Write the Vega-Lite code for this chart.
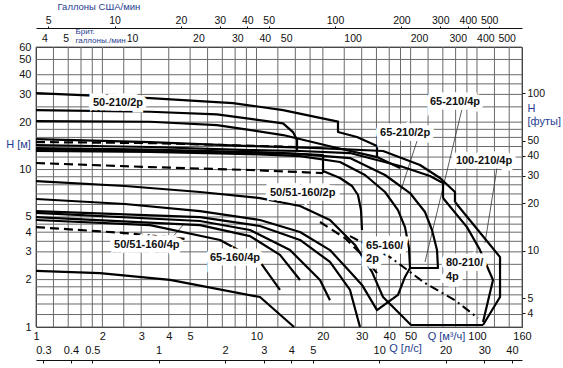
{
  "$schema": "https://vega.github.io/schema/vega-lite/v6.json",
  "width": 486,
  "height": 280,
  "autosize": "none",
  "padding": {"left": 36, "top": 47, "right": 41, "bottom": 41},
  "background": "white",
  "config": {
    "view": {"stroke": "#222", "strokeWidth": 1},
    "font": "Liberation Sans",
    "axis": {"labelFont": "Liberation Sans", "titleFont": "Liberation Sans", "labelColor": "#111", "titleColor": "#1f3d8f", "grid": false, "labelFontSize": 11, "titleFontWeight": "normal", "titleFontSize": 11}
  },
  "datasets": {
    "gx": [{"v":1},{"v":1.2},{"v":1.4},{"v":1.6},{"v":1.8},{"v":2},{"v":2.5},{"v":3},{"v":4},{"v":5},{"v":6},{"v":7},{"v":8},{"v":9},{"v":10},{"v":12.5},{"v":15},{"v":17.5},{"v":20},{"v":25},{"v":30},{"v":35},{"v":40},{"v":45},{"v":50},{"v":60},{"v":70},{"v":80},{"v":90},{"v":100},{"v":120},{"v":140},{"v":160}],
    "gy": [{"v":1},{"v":1.2},{"v":1.4},{"v":1.6},{"v":1.8},{"v":2},{"v":2.5},{"v":3},{"v":3.5},{"v":4},{"v":4.5},{"v":5},{"v":6},{"v":7},{"v":8},{"v":9},{"v":10},{"v":12},{"v":14},{"v":16},{"v":18},{"v":20},{"v":25},{"v":30},{"v":35},{"v":40},{"v":50},{"v":60}],
    "solid": [
      {"id":"A1","i":0,"Q":1,"H":30.6},{"id":"A1","i":1,"Q":3.289,"H":28.44},{"id":"A1","i":2,"Q":7.82,"H":26.44},{"id":"A1","i":3,"Q":13.19,"H":23.86},{"id":"A1","i":4,"Q":23.42,"H":20.17},{"id":"A1","i":5,"Q":23.42,"H":17.3},{"id":"A1","i":6,"Q":28.56,"H":16.08},{"id":"A1","i":7,"Q":35.2,"H":14.1},{"id":"A1","i":8,"Q":35.2,"H":12.0},
      {"id":"A2","i":0,"Q":1,"H":23.86},{"id":"A2","i":1,"Q":3.289,"H":23.28},{"id":"A2","i":2,"Q":6.62,"H":22.41},{"id":"A2","i":3,"Q":13.19,"H":19.65},{"id":"A2","i":4,"Q":14.64,"H":17.3},{"id":"A2","i":5,"Q":15.27,"H":15.39},{"id":"A2","i":6,"Q":15.27,"H":13.3},
      {"id":"A3","i":0,"Q":1,"H":20.32},{"id":"A3","i":1,"Q":3.289,"H":20.11},{"id":"A3","i":2,"Q":6.62,"H":19.16},{"id":"A3","i":3,"Q":13.19,"H":16.56},{"id":"A3","i":4,"Q":22.23,"H":13.9},{"id":"A3","i":5,"Q":35.2,"H":12.0},{"id":"A3","i":6,"Q":44.76,"H":10.22},
      {"id":"R100","i":0,"Q":1,"H":15.62},{"id":"R100","i":1,"Q":3.289,"H":14.95},{"id":"R100","i":2,"Q":9.344,"H":14.1},{"id":"R100","i":3,"Q":19.41,"H":13.69},{"id":"R100","i":4,"Q":37.48,"H":13.11},{"id":"R100","i":5,"Q":55.15,"H":10.68},{"id":"R100","i":6,"Q":67.96,"H":8.83},{"id":"R100","i":7,"Q":79.46,"H":7.2},{"id":"R100","i":8,"Q":79.46,"H":6.22},
      {"id":"R80","i":0,"Q":1,"H":14.31},{"id":"R80","i":1,"Q":3.289,"H":13.9},{"id":"R80","i":2,"Q":9.344,"H":13.3},{"id":"R80","i":3,"Q":15.75,"H":13.11},{"id":"R80","i":4,"Q":26.55,"H":12.73},{"id":"R80","i":5,"Q":44.76,"H":10.53},{"id":"R80","i":6,"Q":61.21,"H":9.09},{"id":"R80","i":7,"Q":70.13,"H":8.21},{"id":"R80","i":8,"Q":70.13,"H":6.59},
      {"id":"P3","i":0,"Q":1,"H":13.69},{"id":"P3","i":1,"Q":3.289,"H":13.4},{"id":"P3","i":2,"Q":9.344,"H":12.92},{"id":"P3","i":3,"Q":15.75,"H":12.54},{"id":"P3","i":4,"Q":26.55,"H":11.83},{"id":"P3","i":5,"Q":38.27,"H":9.23},{"id":"P3","i":6,"Q":49.68,"H":7.09},{"id":"P3","i":7,"Q":58.11,"H":5.37},{"id":"P3","i":8,"Q":62.51,"H":4.13},{"id":"P3","i":9,"Q":65.86,"H":3.08},{"id":"P3","i":10,"Q":66.55,"H":2.37},{"id":"P3","i":11,"Q":49.68,"H":2.37},
      {"id":"B2","i":0,"Q":1,"H":13.4},{"id":"B2","i":1,"Q":3.289,"H":13.11},{"id":"B2","i":2,"Q":13.19,"H":12.73},{"id":"B2","i":3,"Q":20.03,"H":12.36},{"id":"B2","i":4,"Q":20.03,"H":9.5},
      {"id":"P2","i":0,"Q":1,"H":13.11},{"id":"P2","i":1,"Q":3.289,"H":12.92},{"id":"P2","i":2,"Q":9.344,"H":12.54},{"id":"P2","i":3,"Q":15.75,"H":12.18},{"id":"P2","i":4,"Q":23.91,"H":11.16},{"id":"P2","i":5,"Q":31.05,"H":9.23},{"id":"P2","i":6,"Q":38.27,"H":7.2},{"id":"P2","i":7,"Q":43.82,"H":5.53},{"id":"P2","i":8,"Q":47.15,"H":4.31},{"id":"P2","i":9,"Q":49.16,"H":3.18},{"id":"P2","i":10,"Q":49.68,"H":2.37},
      {"id":"B3","i":0,"Q":20.03,"H":9.78},{"id":"B3","i":1,"Q":23.91,"H":8.83},{"id":"B3","i":2,"Q":27.11,"H":7.86},{"id":"B3","i":3,"Q":28.86,"H":6.89},{"id":"B3","i":4,"Q":29.78,"H":5.53},{"id":"B3","i":5,"Q":30.09,"H":4.13},
      {"id":"L7","i":0,"Q":1,"H":8.45},{"id":"L7","i":1,"Q":2.532,"H":7.86},{"id":"L7","i":2,"Q":5.544,"H":7.2},{"id":"L7","i":3,"Q":10.37,"H":6.59},{"id":"L7","i":4,"Q":15.75,"H":5.87},{"id":"L7","i":5,"Q":21.54,"H":4.78},{"id":"L7","i":6,"Q":27.97,"H":3.32},{"id":"L7","i":7,"Q":33.4,"H":2.24},{"id":"L7","i":8,"Q":37.48,"H":1.55},{"id":"L7","i":9,"Q":50.2,"H":1.03},
      {"id":"L8","i":0,"Q":1,"H":6.5},{"id":"L8","i":1,"Q":2.532,"H":6.04},{"id":"L8","i":2,"Q":5.544,"H":5.45},{"id":"L8","i":3,"Q":10.37,"H":4.78},{"id":"L8","i":4,"Q":15.75,"H":4.01},{"id":"L8","i":5,"Q":21.54,"H":3.08},{"id":"L8","i":6,"Q":26.55,"H":2.24},{"id":"L8","i":7,"Q":30.09,"H":1.85},{"id":"L8","i":8,"Q":35.2,"H":1.28},{"id":"L8","i":9,"Q":43.82,"H":1.6},{"id":"L8","i":10,"Q":47.15,"H":2.08},{"id":"L8","i":11,"Q":49.68,"H":2.37},
      {"id":"L9","i":0,"Q":1,"H":5.45},{"id":"L9","i":1,"Q":5.544,"H":4.99},{"id":"L9","i":2,"Q":10.37,"H":4.38},{"id":"L9","i":3,"Q":15.75,"H":3.57},{"id":"L9","i":4,"Q":21.54,"H":2.59},{"id":"L9","i":5,"Q":26.55,"H":1.72},{"id":"L9","i":6,"Q":29.47,"H":1.0},
      {"id":"L10","i":0,"Q":1,"H":5.3},{"id":"L10","i":1,"Q":5.544,"H":4.71},{"id":"L10","i":2,"Q":9.344,"H":4.13},{"id":"L10","i":3,"Q":14.19,"H":3.08},{"id":"L10","i":4,"Q":19.41,"H":1.99},{"id":"L10","i":5,"Q":21.54,"H":1.48},
      {"id":"L11","i":0,"Q":1,"H":4.99},{"id":"L11","i":1,"Q":5.544,"H":4.44},{"id":"L11","i":2,"Q":9.344,"H":3.78},{"id":"L11","i":3,"Q":12.78,"H":2.87},{"id":"L11","i":4,"Q":15.75,"H":1.99},
      {"id":"L12","i":0,"Q":1,"H":4.78},{"id":"L12","i":1,"Q":3.289,"H":4.44},{"id":"L12","i":2,"Q":6.832,"H":3.57},{"id":"L12","i":3,"Q":10.37,"H":2.59},{"id":"L12","i":4,"Q":12.78,"H":1.72},
      {"id":"L13","i":0,"Q":1,"H":2.27},{"id":"L13","i":1,"Q":1.95,"H":2.2},{"id":"L13","i":2,"Q":4.053,"H":1.99},{"id":"L13","i":3,"Q":10.37,"H":1.55},{"id":"L13","i":4,"Q":14.8,"H":1.0},
      {"id":"E1","i":0,"Q":70.13,"H":6.59},{"id":"E1","i":1,"Q":90.07,"H":4.31},{"id":"E1","i":2,"Q":103.2,"H":3.08},{"id":"E1","i":3,"Q":118.2,"H":1.99},{"id":"E1","i":4,"Q":106.5,"H":1.076},
      {"id":"E2","i":0,"Q":79.46,"H":6.22},{"id":"E2","i":1,"Q":127.2,"H":2.78},{"id":"E2","i":2,"Q":127.2,"H":1.55},{"id":"E2","i":3,"Q":106.5,"H":1.03},
      {"id":"BOT","i":0,"Q":50.2,"H":1.03},{"id":"BOT","i":1,"Q":106.5,"H":1.03}
    ],
    "dashed": [
      {"id":"D1","i":0,"Q":1,"H":11.0},{"id":"D1","i":1,"Q":3.289,"H":10.37},{"id":"D1","i":2,"Q":9.344,"H":9.93},{"id":"D1","i":3,"Q":20.03,"H":9.5},
      {"id":"D2","i":0,"Q":1,"H":4.31},{"id":"D2","i":1,"Q":2.532,"H":3.95},{"id":"D2","i":2,"Q":4.84,"H":3.62},
      {"id":"D3","i":0,"Q":1,"H":14.95},{"id":"D3","i":1,"Q":3.289,"H":14.73},{"id":"D3","i":2,"Q":15.27,"H":13.9},
      {"id":"D4","i":0,"Q":19.41,"H":4.64},{"id":"D4","i":1,"Q":25.2,"H":3.67},{"id":"D4","i":2,"Q":30.09,"H":2.87},{"id":"D4","i":3,"Q":35.2,"H":2.2}
    ],
    "dashdot": [
      {"id":"DD","i":0,"Q":26.55,"H":3.78},{"id":"DD","i":1,"Q":40.31,"H":2.78},{"id":"DD","i":2,"Q":58.11,"H":1.9},{"id":"DD","i":3,"Q":79.46,"H":1.48},{"id":"DD","i":4,"Q":101,"H":1.14}
    ],
    "leaders": [
      {"id":"LD1","i":0,"Q":53.45,"H":15.17},{"id":"LD1","i":1,"Q":44.76,"H":7.09},
      {"id":"LD2","i":0,"Q":85.5,"H":24.22},{"id":"LD2","i":1,"Q":58.11,"H":2.59},
      {"id":"LD3","i":0,"Q":123.2,"H":10.22},{"id":"LD3","i":1,"Q":108.7,"H":3.41},
      {"id":"LD4","i":0,"Q":4.053,"H":3.57},{"id":"LD4","i":1,"Q":4.69,"H":4.51}
    ],
    "labelsC": [
      {"t":"50-210/2p","Q":2.355,"H":26.4},
      {"t":"65-210/2p","Q":47.2,"H":17.1},
      {"t":"65-210/4p","Q":79.5,"H":26.8},
      {"t":"100-210/4p","Q":107.6,"H":11.3},
      {"t":"50/51-160/2p","Q":16.2,"H":7.09},
      {"t":"50/51-160/4p","Q":3.18,"H":3.32},
      {"t":"65-160/4p","Q":7.99,"H":2.74}
    ],
    "labelsL": [
      {"t":"65-160/","Q":31.4,"H":3.27},
      {"t":"2p","Q":31.4,"H":2.7},
      {"t":"80-210/","Q":72.3,"H":2.55},
      {"t":"4p","Q":72.3,"H":2.08}
    ]
  },
  "layer": [
    {
      "layer": [
        {
          "data": {"name": "gx"},
          "mark": {"type": "rule", "color": "#6a6a6a", "strokeWidth": 1},
          "encoding": {
            "x": {"field": "v", "type": "quantitative", "scale": {"type": "log", "domain": [1, 160], "nice": false},
              "axis": {"orient": "bottom", "values": [1,2,3,4,5,10,20,30,40,50,100,160], "domain": false, "ticks": false, "labelPadding": 3, "labelFlush": false, "labelOverlap": false, "format": "d", "title": "Q  [м³/ч]", "titleX": 410, "titleY": 9, "titleBaseline": "middle", "titleAlign": "center"}}
          }
        },
        {
          "data": {"name": "gy"},
          "mark": {"type": "rule", "color": "#6a6a6a", "strokeWidth": 1},
          "encoding": {
            "y": {"field": "v", "type": "quantitative", "scale": {"type": "log", "domain": [1, 60], "nice": false},
              "axis": {"orient": "left", "values": [1,2,3,4,5,10,20,30,40,50,60], "domain": false, "ticks": false, "labelPadding": 5, "labelFlush": false, "labelOverlap": false, "format": "d", "title": "H  [м]", "titleAngle": 0, "titleX": -18, "titleY": 97, "titleBaseline": "middle", "titleAlign": "center"}}
          }
        },
        {
          "data": {"name": "leaders"},
          "mark": {"type": "line", "color": "#333", "strokeWidth": 0.8},
          "encoding": {
            "x": {"field": "Q", "type": "quantitative", "scale": {"type": "log", "domain": [1, 160], "nice": false}},
            "y": {"field": "H", "type": "quantitative", "scale": {"type": "log", "domain": [1, 60], "nice": false}},
            "detail": {"field": "id"},
            "order": {"field": "i", "type": "quantitative"}
          }
        },
        {
          "data": {"name": "solid"},
          "mark": {"type": "line", "color": "#000", "strokeWidth": 2.2, "strokeJoin": "round"},
          "encoding": {
            "x": {"field": "Q", "type": "quantitative", "scale": {"type": "log", "domain": [1, 160], "nice": false}},
            "y": {"field": "H", "type": "quantitative", "scale": {"type": "log", "domain": [1, 60], "nice": false}},
            "detail": {"field": "id"},
            "order": {"field": "i", "type": "quantitative"}
          }
        },
        {
          "data": {"name": "dashed"},
          "mark": {"type": "line", "color": "#000", "strokeWidth": 2.2, "strokeDash": [9, 5]},
          "encoding": {
            "x": {"field": "Q", "type": "quantitative", "scale": {"type": "log", "domain": [1, 160], "nice": false}},
            "y": {"field": "H", "type": "quantitative", "scale": {"type": "log", "domain": [1, 60], "nice": false}},
            "detail": {"field": "id"},
            "order": {"field": "i", "type": "quantitative"}
          }
        },
        {
          "data": {"name": "dashdot"},
          "mark": {"type": "line", "color": "#000", "strokeWidth": 2, "strokeDash": [9, 4, 2, 4]},
          "encoding": {
            "x": {"field": "Q", "type": "quantitative", "scale": {"type": "log", "domain": [1, 160], "nice": false}},
            "y": {"field": "H", "type": "quantitative", "scale": {"type": "log", "domain": [1, 60], "nice": false}},
            "detail": {"field": "id"},
            "order": {"field": "i", "type": "quantitative"}
          }
        },
        {
          "data": {"name": "labelsC"},
          "mark": {"type": "text", "font": "Liberation Sans", "fontWeight": "bold", "fontSize": 11, "color": "white", "stroke": "white", "strokeWidth": 9, "strokeJoin": "miter", "align": "center", "baseline": "middle"},
          "encoding": {
            "x": {"field": "Q", "type": "quantitative", "scale": {"type": "log", "domain": [1, 160], "nice": false}},
            "y": {"field": "H", "type": "quantitative", "scale": {"type": "log", "domain": [1, 60], "nice": false}},
            "text": {"field": "t"}
          }
        },
        {
          "data": {"name": "labelsL"},
          "mark": {"type": "text", "font": "Liberation Sans", "fontWeight": "bold", "fontSize": 11, "color": "white", "stroke": "white", "strokeWidth": 9, "strokeJoin": "miter", "align": "left", "baseline": "middle"},
          "encoding": {
            "x": {"field": "Q", "type": "quantitative", "scale": {"type": "log", "domain": [1, 160], "nice": false}},
            "y": {"field": "H", "type": "quantitative", "scale": {"type": "log", "domain": [1, 60], "nice": false}},
            "text": {"field": "t"}
          }
        },
        {
          "data": {"name": "labelsC"},
          "mark": {"type": "text", "font": "Liberation Sans", "fontWeight": "bold", "fontSize": 11, "color": "#111", "align": "center", "baseline": "middle"},
          "encoding": {
            "x": {"field": "Q", "type": "quantitative", "scale": {"type": "log", "domain": [1, 160], "nice": false}},
            "y": {"field": "H", "type": "quantitative", "scale": {"type": "log", "domain": [1, 60], "nice": false}},
            "text": {"field": "t"}
          }
        },
        {
          "data": {"name": "labelsL"},
          "mark": {"type": "text", "font": "Liberation Sans", "fontWeight": "bold", "fontSize": 11, "color": "#111", "align": "left", "baseline": "middle"},
          "encoding": {
            "x": {"field": "Q", "type": "quantitative", "scale": {"type": "log", "domain": [1, 160], "nice": false}},
            "y": {"field": "H", "type": "quantitative", "scale": {"type": "log", "domain": [1, 60], "nice": false}},
            "text": {"field": "t"}
          }
        }
      ]
    },
    {
      "data": {"values": [{"ls": 0.27778}, {"ls": 44.444}]},
      "mark": {"type": "point", "opacity": 0},
      "encoding": {
        "x": {"field": "ls", "type": "quantitative", "scale": {"type": "log", "domain": [0.27778, 44.444], "nice": false},
          "axis": {"orient": "bottom", "offset": 33, "values": [0.3,0.4,0.5,1,2,3,4,5,10,20,30,40], "domain": true, "domainColor": "#111", "ticks": true, "tickSize": 3, "tickColor": "#111", "labelPadding": -19, "labelFlush": false, "labelOverlap": false, "title": "Q  [л/с]", "titleX": 369, "titleY": -12, "titleBaseline": "middle", "titleAlign": "center"}}
      }
    },
    {
      "data": {"values": [{"bg": 3.66615}, {"bg": 586.58}]},
      "mark": {"type": "point", "opacity": 0},
      "encoding": {
        "x": {"field": "bg", "type": "quantitative", "scale": {"type": "log", "domain": [3.66615, 586.58], "nice": false},
          "axis": {"orient": "top", "offset": 0, "values": [4,5,10,20,30,40,50,100,200,300,400,500], "domain": false, "ticks": false, "labelPadding": 4, "labelFontSize": 10.5, "labelFlush": false, "labelOverlap": false, "format": "d", "title": ["Брит.", "галлоны./мин"], "titleFontSize": 8, "titleLineHeight": 9, "titleX": 39, "titleY": -20, "titleBaseline": "top", "titleAlign": "left"}}
      }
    },
    {
      "data": {"values": [{"ug": 4.40287}, {"ug": 704.46}]},
      "mark": {"type": "point", "opacity": 0},
      "encoding": {
        "x": {"field": "ug", "type": "quantitative", "scale": {"type": "log", "domain": [4.40287, 704.46], "nice": false},
          "axis": {"orient": "top", "offset": 19, "values": [5,10,20,30,40,50,100,200,300,400,500], "domain": true, "domainColor": "#111", "ticks": true, "tickSize": 2, "tickColor": "#111", "labelPadding": 1, "labelFontSize": 10.5, "labelFlush": false, "labelOverlap": false, "format": "d", "title": "Галлоны США/мин", "titleFontSize": 9.5, "titleX": 21, "titleY": -22, "titleBaseline": "middle", "titleAlign": "left"}}
      }
    },
    {
      "data": {"values": [{"ft": 3.28084}, {"ft": 196.85}]},
      "mark": {"type": "point", "opacity": 0},
      "encoding": {
        "y": {"field": "ft", "type": "quantitative", "scale": {"type": "log", "domain": [3.28084, 196.85], "nice": false},
          "axis": {"orient": "right", "values": [4,5,10,20,30,40,50,100], "domain": false, "ticks": true, "tickSize": 3, "tickColor": "#111", "labelPadding": 2, "labelFontSize": 10.5, "labelFlush": false, "labelOverlap": false, "format": "d", "title": ["H", "[футы]"], "titleAngle": 0, "titleLineHeight": 13, "titleX": 5, "titleY": 55, "titleBaseline": "top", "titleAlign": "left"}}
      }
    }
  ],
  "resolve": {"scale": {"x": "independent", "y": "independent"}, "axis": {"x": "independent", "y": "independent"}}
}
